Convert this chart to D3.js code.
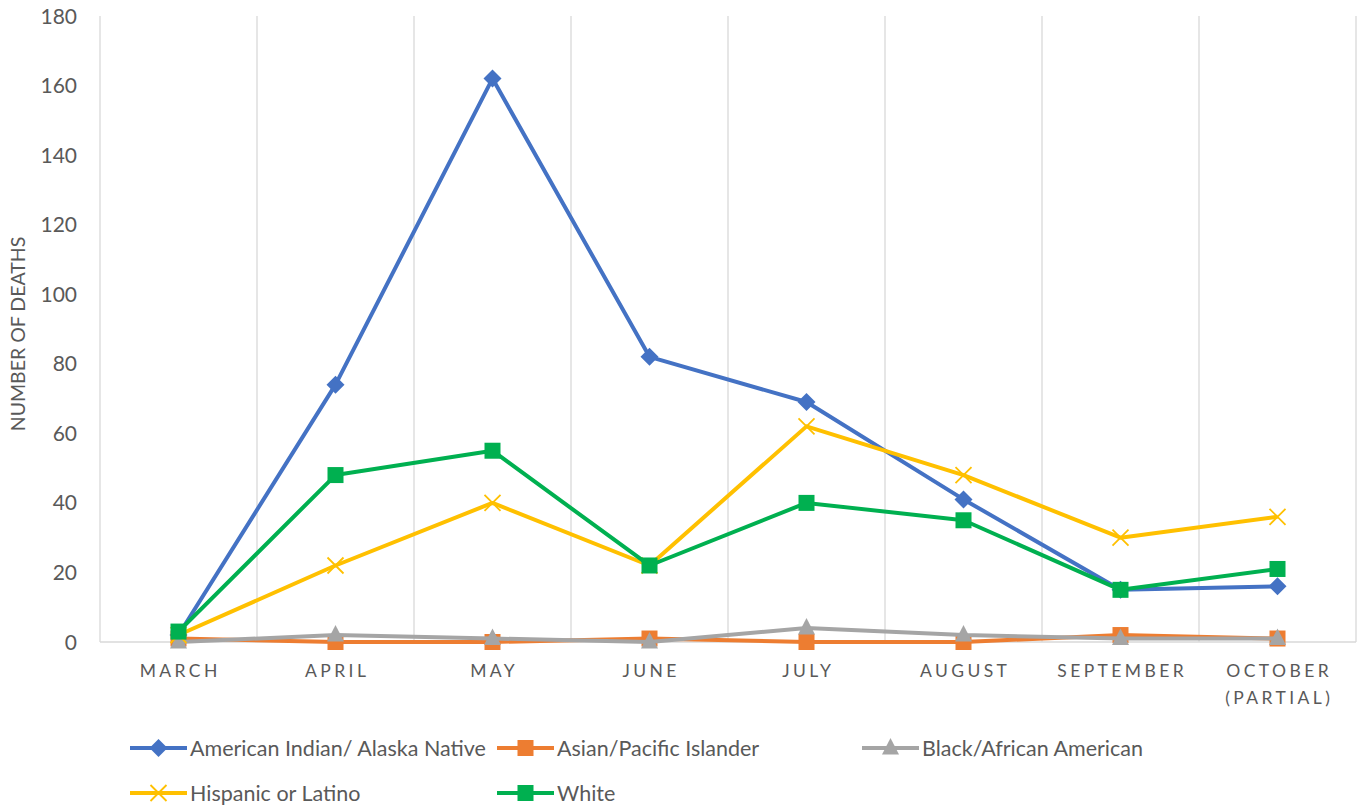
<!DOCTYPE html>
<html><head><meta charset="utf-8">
<script src="https://cdn.jsdelivr.net/npm/d3@7"></script>
<style>body{margin:0;background:#fff}svg{display:block}text{font-family:Lato,"Open Sans",sans-serif}</style>
</head><body>
<svg id="c" width="1361" height="809"></svg>
<script>
const months = ["MARCH","APRIL","MAY","JUNE","JULY","AUGUST","SEPTEMBER","OCTOBER (PARTIAL)"];
const seriesNames = ["American Indian/ Alaska Native","Asian/Pacific Islander","Black/African American","Hispanic or Latino","White"];
const aian = [2,74,162,82,69,41,15,16];
const asian = [1,0,0,1,0,0,2,1];
const black = [0,2,1,0,4,2,1,1];
const hispanic = [2,22,40,22,62,48,30,36];
const white = [3,48,55,22,40,35,15,21];
const yTicks = [0,20,40,60,80,100,120,140,160,180];
const colors = ["#4472C4","#ED7D31","#A5A5A5","#FFC000","#00B050"];
const markers = ["diamond","square","triangle","x","square"];
const values = [aian, asian, black, hispanic, white];

const svg = d3.select("#c");
const L=100, R=1356, T=16, B=642;
const x = d3.scaleBand().domain(months).range([L,R]);
const y = d3.scaleLinear().domain([0,180]).range([B,T]);

const edges = months.map(m=>x(m)).concat([R]);
svg.append("g").selectAll("line").data(edges).join("line")
  .attr("x1",d=>d).attr("x2",d=>d).attr("y1",T).attr("y2",B)
  .attr("stroke","#d9d9d9").attr("stroke-width",1.3);
svg.append("line").attr("x1",L).attr("x2",R).attr("y1",B).attr("y2",B).attr("stroke","#d9d9d9").attr("stroke-width",1.3);

svg.append("g").selectAll("text").data(yTicks).join("text")
  .attr("x",77).attr("y",d=>y(d)).attr("dy","0.36em").attr("text-anchor","end")
  .attr("font-size",21).attr("fill","#595959").text(d=>d);

svg.append("text").attr("transform","translate(25,334) rotate(-90)").attr("text-anchor","middle")
  .attr("font-size",19.5).attr("fill","#595959").text("NUMBER OF DEATHS");

const xl = svg.append("g");
months.forEach(m=>{
  const cx = x(m)+x.bandwidth()/2;
  const parts = m==="OCTOBER (PARTIAL)" ? ["OCTOBER","(PARTIAL)"] : [m];
  parts.forEach((p,i)=>{
    xl.append("text").attr("x",cx+1.7).attr("y",677+i*27).attr("text-anchor","middle")
      .attr("font-size",17.5).attr("letter-spacing","3.4px").attr("fill","#595959").text(p);
  });
});

function marker(g, type, color, cx, cy){
  if(type==="diamond"){
    g.append("path").attr("d",`M${cx},${cy-9}L${cx+9},${cy}L${cx},${cy+9}L${cx-9},${cy}Z`).attr("fill",color);
  } else if(type==="square"){
    g.append("rect").attr("x",cx-8).attr("y",cy-8).attr("width",16).attr("height",16).attr("fill",color);
  } else if(type==="triangle"){
    g.append("path").attr("d",`M${cx},${cy-10}L${cx+8.5},${cy+6.5}L${cx-8.5},${cy+6.5}Z`).attr("fill",color);
  } else if(type==="x"){
    g.append("path").attr("d",`M${cx-8},${cy-8}L${cx+8},${cy+8}M${cx+8},${cy-8}L${cx-8},${cy+8}`)
      .attr("stroke",color).attr("stroke-width",1.8).attr("fill","none");
  }
}

const line = d3.line().x((d,i)=>x(months[i])+x.bandwidth()/2).y(d=>y(d));
values.forEach((vals,k)=>{
  const g = svg.append("g");
  g.append("path").datum(vals).attr("d",line).attr("fill","none")
    .attr("stroke",colors[k]).attr("stroke-width",4).attr("stroke-linejoin","round");
  vals.forEach((v,i)=>marker(g, markers[k], colors[k], x(months[i])+x.bandwidth()/2, y(v)));
});

const legPos = [[130,748],[497,748],[862,748],[130,793],[497,793]];
seriesNames.forEach((n,k)=>{
  const [lx,ly] = legPos[k];
  const g = svg.append("g");
  g.append("line").attr("x1",lx).attr("x2",lx+57).attr("y1",ly).attr("y2",ly)
    .attr("stroke",colors[k]).attr("stroke-width",4);
  marker(g, markers[k], colors[k], lx+28.5, ly);
  g.append("text").attr("x",lx+60).attr("y",ly).attr("dy","0.36em")
    .attr("font-size",21.5).attr("fill","#595959").text(n);
});
</script>
</body></html>
